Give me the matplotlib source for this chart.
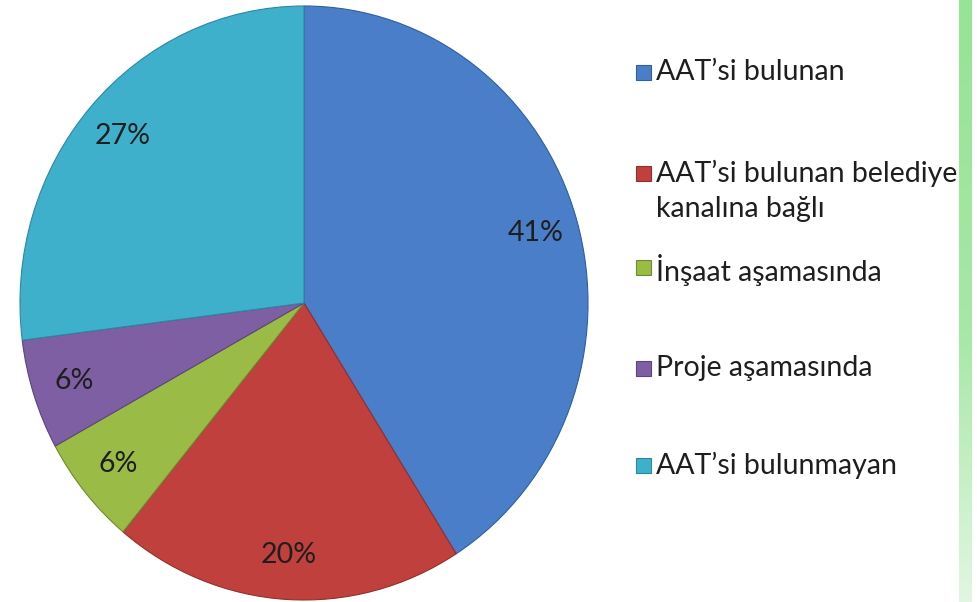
import numpy as np
import matplotlib
matplotlib.use("Agg")
import matplotlib.pyplot as plt
from matplotlib.patches import Rectangle
from matplotlib.colors import LinearSegmentedColormap

plt.rcParams['font.family'] = ['Lato', 'DejaVu Sans']

labels = ["AAT’si bulunan", "AAT’si bulunan belediye\nkanalına bağlı",
          "İnşaat aşamasında", "Proje aşamasında", "AAT’si bulunmayan"]
values = [41, 20, 6, 6, 27]
colors = ["#4a7ec9", "#c0403d", "#9bbb47", "#7f5fa3", "#3fb0cb"]
edges = ["#2f5f9e", "#922f2d", "#6f8a33", "#5d4480", "#2d87a0"]

# legend row centres, px from top (first line of each label)
legend_y = [72, 173, 267, 368, 465]

W, H = 978, 602
fig = plt.figure(figsize=(W / 100, H / 100), dpi=100)

# pie axes: slightly taller than wide, as in the picture
ax = fig.add_axes([20 / W, 2 / H, 568 / W, 594 / H])
wedges, texts, autotexts = ax.pie(
    values, colors=colors, startangle=90, counterclock=False,
    autopct="%d%%", pctdistance=0.85, radius=1,
    wedgeprops=dict(linewidth=0.8),
    textprops=dict(fontsize=20.5, color="#1e1e1e"))
for w, e in zip(wedges, edges):
    w.set_edgecolor(e)
ax.set_aspect("auto")
ax.set_xlim(-1, 1)
ax.set_ylim(-1, 1)
ax.axis("off")

# legend drawn by hand
for lab, c, e, yy in zip(labels, colors, edges, legend_y):
    yf = 1 - yy / H
    fig.patches.append(Rectangle((636 / W, yf - 8 / H), 15 / W, 15 / H,
                                 transform=fig.transFigure, facecolor=c,
                                 edgecolor=e, linewidth=0.8))
    fig.text(656 / W, yf + 13 / H, lab, fontsize=20.5, color="#1e1e1e",
             va="top", ha="left", linespacing=1.42)

# green stripe at the right edge
sax = fig.add_axes([959 / W, 0, 13 / W, 1])
cmap = LinearSegmentedColormap.from_list(
    "stripe", [(0, "#96e495"), (0.55, "#a6e8a5"), (1, "#e2f6e2")])
sax.imshow(np.linspace(0, 1, 256).reshape(-1, 1), aspect="auto", cmap=cmap)
sax.axis("off")
sax.set_zorder(-1)

fig.savefig("out.png", dpi=100)
